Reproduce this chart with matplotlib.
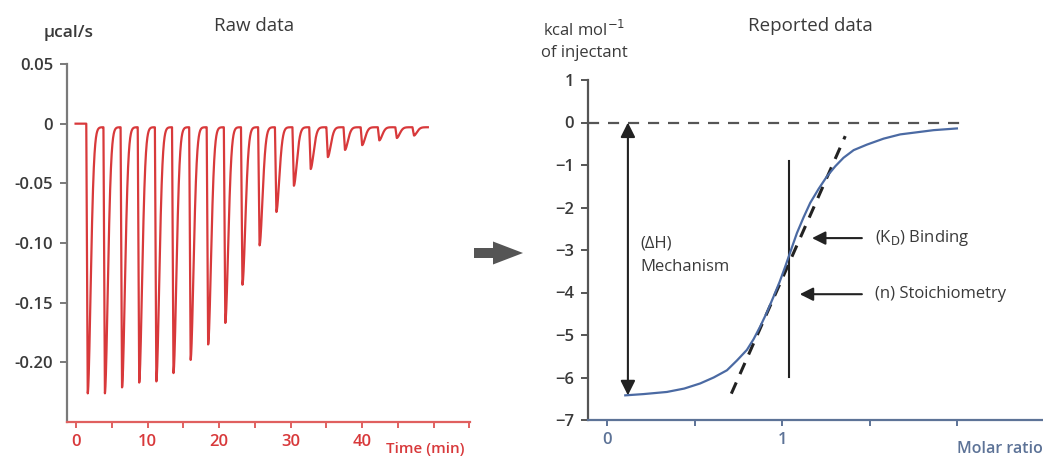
import numpy as np
import matplotlib
matplotlib.use("Agg")
import matplotlib.pyplot as plt
from matplotlib.patches import Polygon

plt.rcParams['font.family'] = ['Open Sans', 'DejaVu Sans']

# ---------------- data ----------------
# Raw data: injection peak times (min) and peak depths (ucal/s)
injection_times = [1.6, 4.0, 6.4, 8.8, 11.2, 13.6, 16.0, 18.45, 20.85, 23.25,
                   25.65, 28.0, 30.45, 32.8, 35.2, 37.6, 40.0, 42.4, 44.85, 47.25]
peak_depths = [-0.226, -0.226, -0.221, -0.217, -0.216, -0.209, -0.198, -0.185, -0.167, -0.135,
               -0.102, -0.074, -0.052, -0.038, -0.028, -0.022, -0.018, -0.014, -0.012, -0.010]
baseline_level = -0.003
raw_time_range = [-0.1, 49.2]
raw_xticks = [0, 5, 10, 15, 20, 25, 30, 35, 40, 45, 50, 55]
raw_xticklabels = ['0', '', '10', '', '20', '', '30', '', '40', '', '', '']
raw_yticks = [0.05, 0, -0.05, -0.10, -0.15, -0.20]
raw_yticklabels = ['0.05', '0', '-0.05', '-0.10', '-0.15', '-0.20']

# Reported data: binding isotherm
molar_ratio = [0.103, 0.208, 0.341, 0.440, 0.531, 0.608, 0.684, 0.741, 0.798, 0.836, 0.874,
               0.912, 0.950, 0.985, 1.017, 1.050, 1.084, 1.122, 1.160, 1.208, 1.255, 1.303,
               1.350, 1.408, 1.484, 1.579, 1.674, 1.770, 1.865, 1.998]
heat = [-6.42, -6.39, -6.34, -6.26, -6.14, -6.00, -5.83, -5.60, -5.35, -5.10, -4.80,
        -4.47, -4.10, -3.75, -3.39, -3.00, -2.60, -2.23, -1.89, -1.56, -1.27, -1.03,
        -0.83, -0.65, -0.52, -0.38, -0.28, -0.23, -0.18, -0.14]
tangent_x = [0.709, 1.36]
tangent_y = [-6.38, -0.32]
stoich_x = 1.04
stoich_y = [-0.91, -5.98]
dH_x = 0.118
dH_y = [0.0, -6.42]
rep_xticks = [0, 0.5, 1, 1.5, 2]
rep_xticklabels = ['0', '', '1', '', '']
rep_yticks = [1, 0, -1, -2, -3, -4, -5, -6, -7]

# ---------------- figure ----------------
W, H = 1043, 459
fig = plt.figure(figsize=(W / 100, H / 100), dpi=100)

def fx(px):
    return px / W

def fy(py):
    return 1 - py / H

red = '#d8393b'
axred = '#e0605f'
grey_axis = '#7a7a7a'
txt = '#3a3a3a'
blue = '#4b6aa3'
blue_axis = '#5d7397'
FS = 12

# ---- left panel ----
axL = fig.add_axes([fx(67), fy(422), fx(470) - fx(67), fy(64) - fy(422)])
t = np.linspace(raw_time_range[0], raw_time_range[1], 8000)
sig = np.full_like(t, baseline_level)
first_start = injection_times[0] - 0.2
sig[t < first_start] = 0.0
for ti, d in zip(injection_times, peak_depths):
    amp = d - baseline_level
    t0 = ti - 0.2
    s = np.zeros_like(t)
    m1 = (t >= t0) & (t < ti)
    s[m1] = (t[m1] - t0) / 0.2
    m2 = t >= ti
    s[m2] = np.exp(-((t[m2] - ti) / 0.6) ** 1.8)
    sig = sig + amp * s
axL.plot(t, sig, color=red, lw=1.6)
axL.set_xlim(-1.3, 55.1)
axL.set_ylim(-0.25, 0.05)
axL.set_xticks(raw_xticks)
axL.set_xticklabels(raw_xticklabels)
axL.set_yticks(raw_yticks)
axL.set_yticklabels(raw_yticklabels)
for sp in ['top', 'right']:
    axL.spines[sp].set_visible(False)
axL.spines['left'].set_color(grey_axis)
axL.spines['left'].set_linewidth(1.6)
axL.spines['bottom'].set_color(axred)
axL.spines['bottom'].set_linewidth(1.6)
axL.tick_params(axis='y', colors=grey_axis, labelcolor=txt, length=5, width=1.4,
                labelsize=FS, pad=5)
axL.tick_params(axis='x', colors=axred, labelcolor=red, length=4, width=1.4,
                labelsize=FS, pad=5)
for lab in axL.get_yticklabels() + axL.get_xticklabels():
    lab.set_fontweight('semibold')

fig.text(fx(386), fy(449), 'Time (min)', color=red, fontsize=11, ha='left', va='center',
         fontweight='semibold')
fig.text(fx(254), fy(26), 'Raw data', color=txt, fontsize=13.5, ha='center', va='center')
fig.text(fx(69), fy(33), 'µcal/s', color=txt, fontsize=12.5, ha='center', va='center',
         fontweight='semibold')

# ---- right panel ----
axR = fig.add_axes([fx(588), fy(420), fx(1043) - fx(588), fy(80) - fy(420)])
axR.plot(molar_ratio, heat, color=blue, lw=1.6, zorder=3)
axR.plot([-0.11, 2.06], [0, 0], color='#555555', lw=1.6, dashes=(5, 4), zorder=2)
axR.plot(tangent_x, tangent_y, color='#222222', lw=2.2, dashes=(4, 3), zorder=2)
axR.plot([stoich_x, stoich_x], stoich_y, color='#222222', lw=1.5, zorder=2)
axR.annotate('', xy=(dH_x, dH_y[0]), xytext=(dH_x, dH_y[1]),
             arrowprops=dict(arrowstyle='<|-|>', color='#222222', lw=1.5,
                             mutation_scale=22, shrinkA=0, shrinkB=0))
axR.annotate('', xy=(1.17, -2.72), xytext=(1.455, -2.72),
             arrowprops=dict(arrowstyle='-|>', color='#222222', lw=1.5,
                             mutation_scale=20, shrinkA=0, shrinkB=0))
axR.annotate('', xy=(1.10, -4.04), xytext=(1.455, -4.04),
             arrowprops=dict(arrowstyle='-|>', color='#222222', lw=1.5,
                             mutation_scale=20, shrinkA=0, shrinkB=0))
axR.text(0.189, -2.84, '(ΔH)', color=txt, fontsize=FS, ha='left', va='center')
axR.text(0.189, -3.39, 'Mechanism', color=txt, fontsize=FS, ha='left', va='center')
axR.text(1.53, -2.72, r'(K$_{\mathrm{D}}$) Binding', color=txt, fontsize=FS, ha='left',
         va='center')
axR.text(1.53, -4.04, '(n) Stoichiometry', color=txt, fontsize=FS, ha='left', va='center')

axR.set_xlim(-0.11, 2.49)
axR.set_ylim(-7, 1)
axR.set_xticks(rep_xticks)
axR.set_xticklabels(rep_xticklabels)
axR.set_yticks(rep_yticks)
for sp in ['top', 'right']:
    axR.spines[sp].set_visible(False)
axR.spines['left'].set_color('#555555')
axR.spines['left'].set_linewidth(1.6)
axR.spines['bottom'].set_color(blue_axis)
axR.spines['bottom'].set_linewidth(1.6)
axR.tick_params(axis='y', colors='#555555', labelcolor=txt, length=5, width=1.4,
                labelsize=FS, pad=5)
axR.tick_params(axis='x', colors=blue_axis, labelcolor=blue_axis, length=4, width=1.4,
                labelsize=FS, pad=5)
for lab in axR.get_yticklabels() + axR.get_xticklabels():
    lab.set_fontweight('semibold')

fig.text(fx(957), fy(449), 'Molar ratio', color=blue_axis, fontsize=11.5, ha='left',
         va='center', fontweight='semibold')
fig.text(fx(810), fy(26), 'Reported data', color=txt, fontsize=13.5, ha='center', va='center')
fig.text(fx(584), fy(30), 'kcal mol$^{-1}$', color=txt, fontsize=12, ha='center', va='center')
fig.text(fx(584), fy(53), 'of injectant', color=txt, fontsize=12, ha='center', va='center')

# ---- grey block arrow between the panels ----
pts_px = [(474, 248), (493, 248), (493, 241.5), (523, 253), (493, 264.5), (493, 258), (474, 258)]
pts_in = [(x / 100, (H - y) / 100) for x, y in pts_px]
fig.patches.append(Polygon(pts_in, closed=True, transform=fig.dpi_scale_trans,
                           facecolor='#555555', edgecolor='none'))

fig.savefig('out.png', dpi=100)
